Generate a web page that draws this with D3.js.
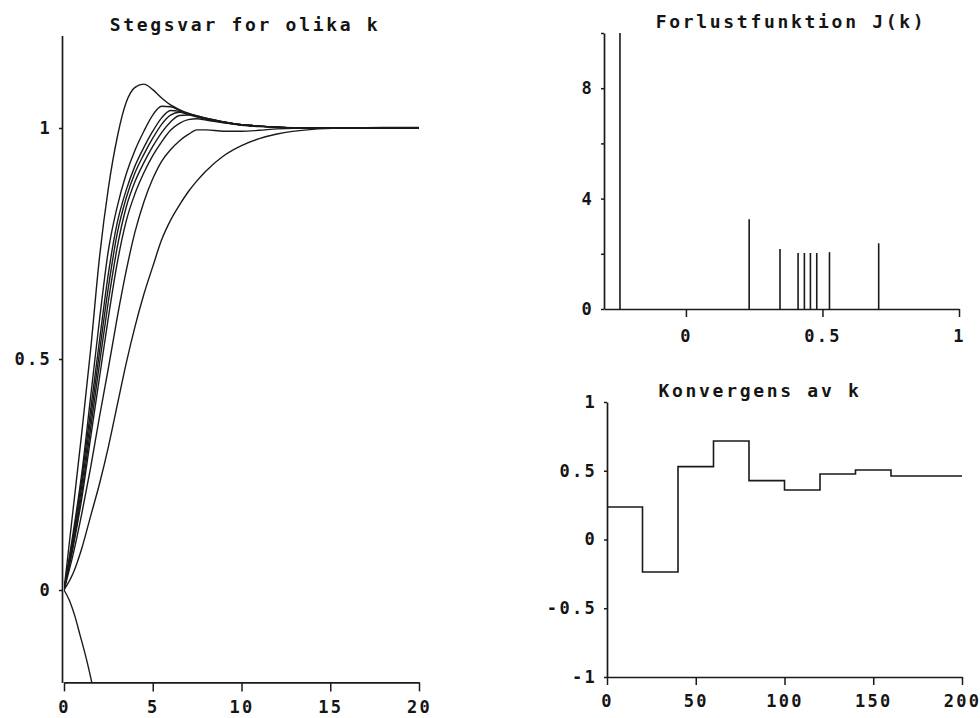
<!DOCTYPE html>
<html><head><meta charset="utf-8">
<script src="https://cdn.jsdelivr.net/npm/d3@7"></script>
<style>
body{margin:0;background:#fff}
svg text{font-family:"DejaVu Sans Mono",monospace;font-weight:bold;fill:#151515}
</style></head><body>
<svg id="c" width="980" height="718"></svg>
<script>
// ---- Left panel: step responses for different k ----
const respTimes = [0,0.5,1,1.5,2,2.5,3,3.5,4,4.5,5,5.5,6,6.5,7,7.5,8,9,10,11,12,14,16,18,20];
const resp_k071 = [0,0.17,0.34,0.52,0.72,0.87,0.98,1.055,1.088,1.095,1.083,1.065,1.05,1.04,1.032,1.026,1.021,1.013,1.007,1.004,1.002,1.0,1.0,1.0,1.0];
const resp_k053 = [0,0.12,0.252,0.418,0.585,0.735,0.83,0.9,0.952,0.993,1.028,1.047,1.046,1.038,1.031,1.026,1.021,1.013,1.007,1.004,1.002,1.0,1.0,1.0,1.0];
const resp_k048 = [0,0.11,0.24,0.39,0.54,0.685,0.795,0.865,0.918,0.958,0.993,1.022,1.038,1.036,1.03,1.025,1.02,1.013,1.007,1.004,1.002,1.0,1.0,1.0,1.0];
const resp_k046 = [0,0.10,0.225,0.37,0.515,0.655,0.772,0.848,0.903,0.943,0.978,1.008,1.028,1.034,1.03,1.025,1.02,1.013,1.007,1.004,1.002,1.0,1.0,1.0,1.0];
const resp_k044 = [0,0.095,0.21,0.35,0.49,0.625,0.742,0.828,0.884,0.925,0.96,0.99,1.013,1.027,1.028,1.024,1.019,1.012,1.007,1.004,1.002,1.0,1.0,1.0,1.0];
const resp_k042 = [0,0.09,0.198,0.33,0.46,0.59,0.708,0.798,0.858,0.903,0.94,0.97,0.995,1.01,1.018,1.02,1.017,1.011,1.006,1.003,1.001,1.0,1.0,1.0,1.0];
const resp_k035 = [0,0.075,0.165,0.265,0.375,0.48,0.59,0.69,0.775,0.84,0.89,0.928,0.953,0.972,0.986,0.996,0.996,0.993,0.993,0.995,0.998,1.0,1.0,1.0,1.0];
const resp_k024 = [0,0.035,0.09,0.16,0.23,0.31,0.40,0.49,0.57,0.64,0.70,0.758,0.80,0.833,0.862,0.886,0.907,0.94,0.962,0.977,0.987,0.997,1.0,1.001,1.001];
const negTimes = [0,0.3,0.6,0.9,1.2,1.45,1.65];
const resp_kneg024 = [0,-0.022,-0.055,-0.097,-0.14,-0.18,-0.215];
const leftXTicks = [0,5,10,15,20];
const leftYTicks = [0,0.5,1];

// ---- Top right: loss function J(k) ----
const lossK = [-0.2415,0.2316,0.3445,0.4107,0.4338,0.4559,0.4791,0.5257,0.7059];
const lossJ = [10,3.25,2.17,2.03,2.03,2.03,2.03,2.06,2.38];
const lossXTicks = [0,0.5,1];
const lossYTicks = [0,2,4,6,8,10];
const lossYLabels = [0,4,8];

// ---- Bottom right: convergence of k ----
const iterN = [0,20,40,60,80,100,120,140,160,180,200];
const iterK = [0.236,-0.236,0.53,0.716,0.428,0.36,0.476,0.505,0.462,0.462,0.462];
const convXTicks = [0,50,100,150,200];
const convYTicks = [-1,-0.5,0,0.5,1];

const svg = d3.select('#c');
svg.append('rect').attr('width',980).attr('height',718).attr('fill','#fff');
const INK = '#1a1a1a';

function styleAxis(g, fs){
  g.selectAll('path.domain').attr('stroke',INK).attr('stroke-width',1.7);
  g.selectAll('.tick line').attr('stroke',INK).attr('stroke-width',1.5);
  g.selectAll('text').attr('font-size',fs).attr('letter-spacing','2.3px')
    .attr('font-family','DejaVu Sans Mono').attr('font-weight','bold').attr('fill','#151515');
}
const fmt = d => String(d);

// ---- Left panel ----
const xL = d3.scaleLinear().domain([0,20]).range([64,419]);
const yL = d3.scaleLinear().domain([-0.2,1.2]).range([682.4,35.6]);
svg.append('defs').append('clipPath').attr('id','clipL')
  .append('rect').attr('x',xL(0)).attr('y',yL(1.2)).attr('width',xL(20)-xL(0)).attr('height',yL(-0.2)-yL(1.2));

const gxL = svg.append('g').attr('transform',`translate(0,${yL(-0.2)})`)
  .call(d3.axisBottom(xL).tickValues(leftXTicks).tickFormat(fmt).tickSize(9).tickSizeOuter(0).tickPadding(10));
styleAxis(gxL,17);
const gyL = svg.append('g').attr('transform',`translate(${xL(0)-2},0)`)
  .call(d3.axisLeft(yL).tickValues(leftYTicks).tickFormat(fmt).tickSize(3).tickSizeOuter(0).tickPadding(7));
styleAxis(gyL,17);

const lineL = d3.line().x(d=>xL(d[0])).y(d=>yL(d[1])).curve(d3.curveMonotoneX);
const curves = [resp_k071,resp_k053,resp_k048,resp_k046,resp_k044,resp_k042,resp_k035,resp_k024];
const gC = svg.append('g').attr('clip-path','url(#clipL)');
curves.forEach(c=>{
  gC.append('path').attr('d',lineL(respTimes.map((t,i)=>[t,c[i]])))
    .attr('fill','none').attr('stroke',INK).attr('stroke-width',1.4);
});
gC.append('path').attr('d',lineL(negTimes.map((t,i)=>[t,resp_kneg024[i]])))
  .attr('fill','none').attr('stroke',INK).attr('stroke-width',1.4);

svg.append('text').attr('x',245).attr('y',31).attr('text-anchor','middle')
  .attr('font-size',18).attr('letter-spacing','2.7px').text('Stegsvar for olika k');

// ---- Top right ----
const xJ = d3.scaleLinear().domain([-0.3,1]).range([604,959]);
const yJ = d3.scaleLinear().domain([0,10]).range([309,33]);
const gxJ = svg.append('g').attr('transform',`translate(0,${yJ(0)})`)
  .call(d3.axisBottom(xJ).tickValues(lossXTicks).tickFormat(fmt).tickSize(8).tickSizeOuter(0).tickPadding(13));
styleAxis(gxJ,17);
const gyJ = svg.append('g').attr('transform',`translate(${xJ(-0.3)},0)`)
  .call(d3.axisLeft(yJ).tickValues(lossYTicks).tickFormat(d=>lossYLabels.includes(d)?String(d):'').tickSize(3).tickSizeOuter(0).tickPadding(7));
styleAxis(gyJ,17);
svg.append('g').selectAll('line').data(lossK.map((k,i)=>[k,lossJ[i]])).join('line')
  .attr('x1',d=>xJ(d[0])).attr('x2',d=>xJ(d[0]))
  .attr('y1',yJ(0)).attr('y2',d=>yJ(Math.min(d[1],10)))
  .attr('stroke',INK).attr('stroke-width',1.6);
svg.append('text').attr('x',791).attr('y',28).attr('text-anchor','middle')
  .attr('font-size',18).attr('letter-spacing','2.7px').text('Forlustfunktion J(k)');

// ---- Bottom right ----
const xC = d3.scaleLinear().domain([0,200]).range([607,962]);
const yC = d3.scaleLinear().domain([-1,1]).range([677,402]);
const gxC = svg.append('g').attr('transform',`translate(0,${yC(-1)})`)
  .call(d3.axisBottom(xC).tickValues(convXTicks).tickFormat(fmt).tickSize(8).tickSizeOuter(0).tickPadding(10));
styleAxis(gxC,17);
const gyC = svg.append('g').attr('transform',`translate(${xC(0)},0)`)
  .call(d3.axisLeft(yC).tickValues(convYTicks).tickFormat(fmt).tickSize(3).tickSizeOuter(0).tickPadding(7));
styleAxis(gyC,17);
const lineC = d3.line().x(d=>xC(d[0])).y(d=>yC(d[1])).curve(d3.curveStepAfter);
svg.append('path').attr('d',lineC(iterN.map((n,i)=>[n,iterK[i]])))
  .attr('fill','none').attr('stroke',INK).attr('stroke-width',1.6);
svg.append('text').attr('x',760).attr('y',397).attr('text-anchor','middle')
  .attr('font-size',18).attr('letter-spacing','2.7px').text('Konvergens av k');
</script>
</body></html>
